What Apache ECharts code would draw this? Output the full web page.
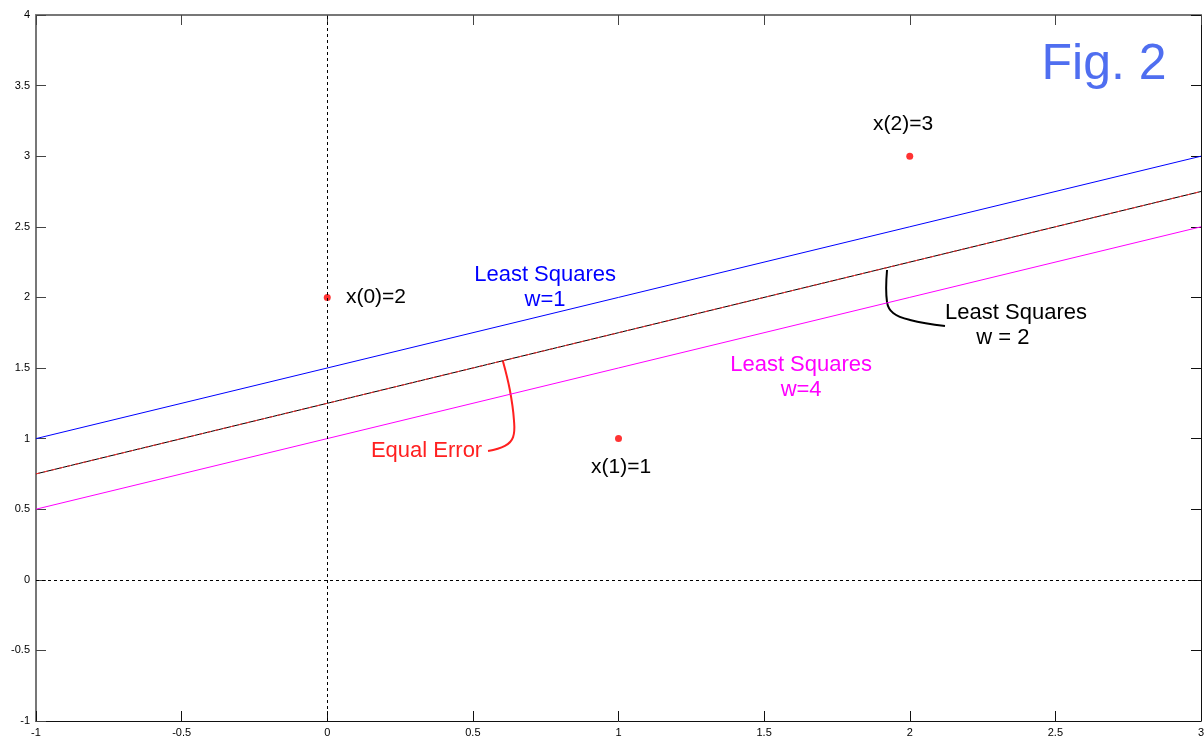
<!DOCTYPE html>
<html>
<head>
<meta charset="utf-8">
<script src="https://cdn.jsdelivr.net/npm/echarts@6/dist/echarts.min.js"></script>
<style>
  html, body { margin: 0; padding: 0; background: #fff; }
  #main { width: 1204px; height: 740px; }
</style>
</head>
<body>
<div id="main"></div>
<script>
// line end points (x from -1 to 3)
var lineX = [-1, 3];
var lsW1 = [1, 3];        // Least Squares w=1
var lsW2 = [0.75, 2.75];  // Least Squares w=2
var equalErr = [0.75, 2.75]; // Equal Error (same line, dashed red)
var lsW4 = [0.5, 2.5];    // Least Squares w=4

// samples x(n)
var sampleN = [0, 1, 2];
var sampleX = [2, 1, 3];

// annotation texts, anchored in data units
var noteText = ['x(0)=2', 'x(1)=1', 'x(2)=3', 'Least Squares', 'w=1', 'Least Squares', 'w = 2', 'Least Squares', 'w=4', 'Equal Error', 'Fig. 2'];
var noteAt = [[0.064, 2.0], [1.009, 0.80], [1.977, 3.228], [0.748, 2.16], [0.748, 1.98], [2.365, 1.89], [2.32, 1.71], [1.627, 1.52], [1.627, 1.345], [0.341, 0.912], [2.667, 3.646]];

// pointer curves, data units
var eqErrCurve = [[0.603, 1.55], [0.627, 1.344], [0.641, 1.132], [0.638, 1.011], [0.61, 0.948], [0.552, 0.912]];
var w2Curve = [[1.922, 2.194], [1.922, 1.967], [1.943, 1.89], [2.001, 1.84], [2.121, 1.797]];

var font = '"Liberation Sans", Arial, sans-serif';
var chart = echarts.init(document.getElementById('main'));

function pairs(xs, ys) {
  var out = [];
  for (var i = 0; i < xs.length; i++) out.push([xs[i], ys[i]]);
  return out;
}

var axisLbl = { fontSize: 11, color: '#000', fontFamily: font };

var option = {
  animation: false,
  backgroundColor: '#fff',
  grid: { left: 36, right: 3, top: 15, bottom: 19, outerBoundsMode: 'none' },
  xAxis: [{
    type: 'value', min: -1, max: 3, interval: 0.5, position: 'bottom',
    axisLine: { show: true, onZero: false, lineStyle: { color: '#111', width: 1 } },
    axisTick: { show: true, inside: true, length: 10, lineStyle: { color: '#111' } },
    axisLabel: Object.assign({ margin: 6 }, axisLbl),
    splitLine: { show: false }
  }, {
    type: 'value', min: -1, max: 3, interval: 0.5, position: 'top',
    axisLine: { show: true, onZero: false, lineStyle: { color: '#777', width: 2 } },
    axisTick: { show: true, inside: true, length: 10, lineStyle: { color: '#444' } },
    axisLabel: { show: false },
    splitLine: { show: false }
  }],
  yAxis: [{
    type: 'value', min: -1, max: 4, interval: 0.5, position: 'left',
    axisLine: { show: true, onZero: false, lineStyle: { color: '#777', width: 2 } },
    axisTick: { show: true, inside: true, length: 10, lineStyle: { color: '#444' } },
    axisLabel: Object.assign({ margin: 6 }, axisLbl),
    splitLine: { show: false }
  }, {
    type: 'value', min: -1, max: 4, interval: 0.5, position: 'right',
    axisLine: { show: true, onZero: false, lineStyle: { color: '#111', width: 1 } },
    axisTick: { show: true, inside: true, length: 10, lineStyle: { color: '#111' } },
    axisLabel: { show: false },
    splitLine: { show: false }
  }],
  series: [{
    name: 'w=1', type: 'line', data: pairs(lineX, lsW1), symbol: 'none',
    lineStyle: { color: '#0000ff', width: 1 }, silent: true
  }, {
    name: 'w=2', type: 'line', data: pairs(lineX, lsW2), symbol: 'none',
    lineStyle: { color: '#000', width: 1 }, silent: true
  }, {
    name: 'equal', type: 'line', data: pairs(lineX, equalErr), symbol: 'none',
    lineStyle: { color: '#ff3030', width: 1, type: [4, 4] }, silent: true
  }, {
    name: 'w=4', type: 'line', data: pairs(lineX, lsW4), symbol: 'none',
    lineStyle: { color: '#ff00ff', width: 1 }, silent: true
  }, {
    name: 'x', type: 'scatter', data: pairs(sampleN, sampleX),
    symbol: 'circle', symbolSize: 7, itemStyle: { color: '#ff0000' },
    markLine: {
      silent: true, symbol: 'none', label: { show: false },
      lineStyle: { color: '#000', width: 1, type: [3, 3] },
      data: [{ xAxis: 0 }, { yAxis: 0 }]
    }
  }]
};
chart.setOption(option);

// annotations placed through the axes
var noteColor = ['#000', '#000', '#000', '#0000ff', '#0000ff', '#000', '#000', '#ff00ff', '#ff00ff', '#ff2020', '#4f6ef0'];
var noteAlign = ['left', 'center', 'center', 'center', 'center', 'center', 'center', 'center', 'center', 'center', 'center'];
var noteSize = [21, 21, 21, 22, 22, 22, 22, 22, 22, 22, 50];

var graphics = [];
noteText.forEach(function (t, i) {
  var p = chart.convertToPixel({ gridIndex: 0 }, noteAt[i]);
  graphics.push({
    type: 'text', x: p[0], y: p[1], silent: true,
    style: {
      text: t, fill: noteColor[i], font: noteSize[i] + 'px ' + font,
      align: noteAlign[i], verticalAlign: 'middle'
    }
  });
});

function toPx(pts) {
  return pts.map(function (d) { return chart.convertToPixel({ gridIndex: 0 }, d); });
}
graphics.push({
  type: 'polyline', silent: true,
  shape: { points: toPx(eqErrCurve), smooth: 0.4 },
  style: { stroke: '#ff2020', lineWidth: 2, fill: null }
});
graphics.push({
  type: 'polyline', silent: true,
  shape: { points: toPx(w2Curve), smooth: 0.4 },
  style: { stroke: '#000', lineWidth: 2, fill: null }
});
chart.setOption({ graphic: graphics });
</script>
</body>
</html>
